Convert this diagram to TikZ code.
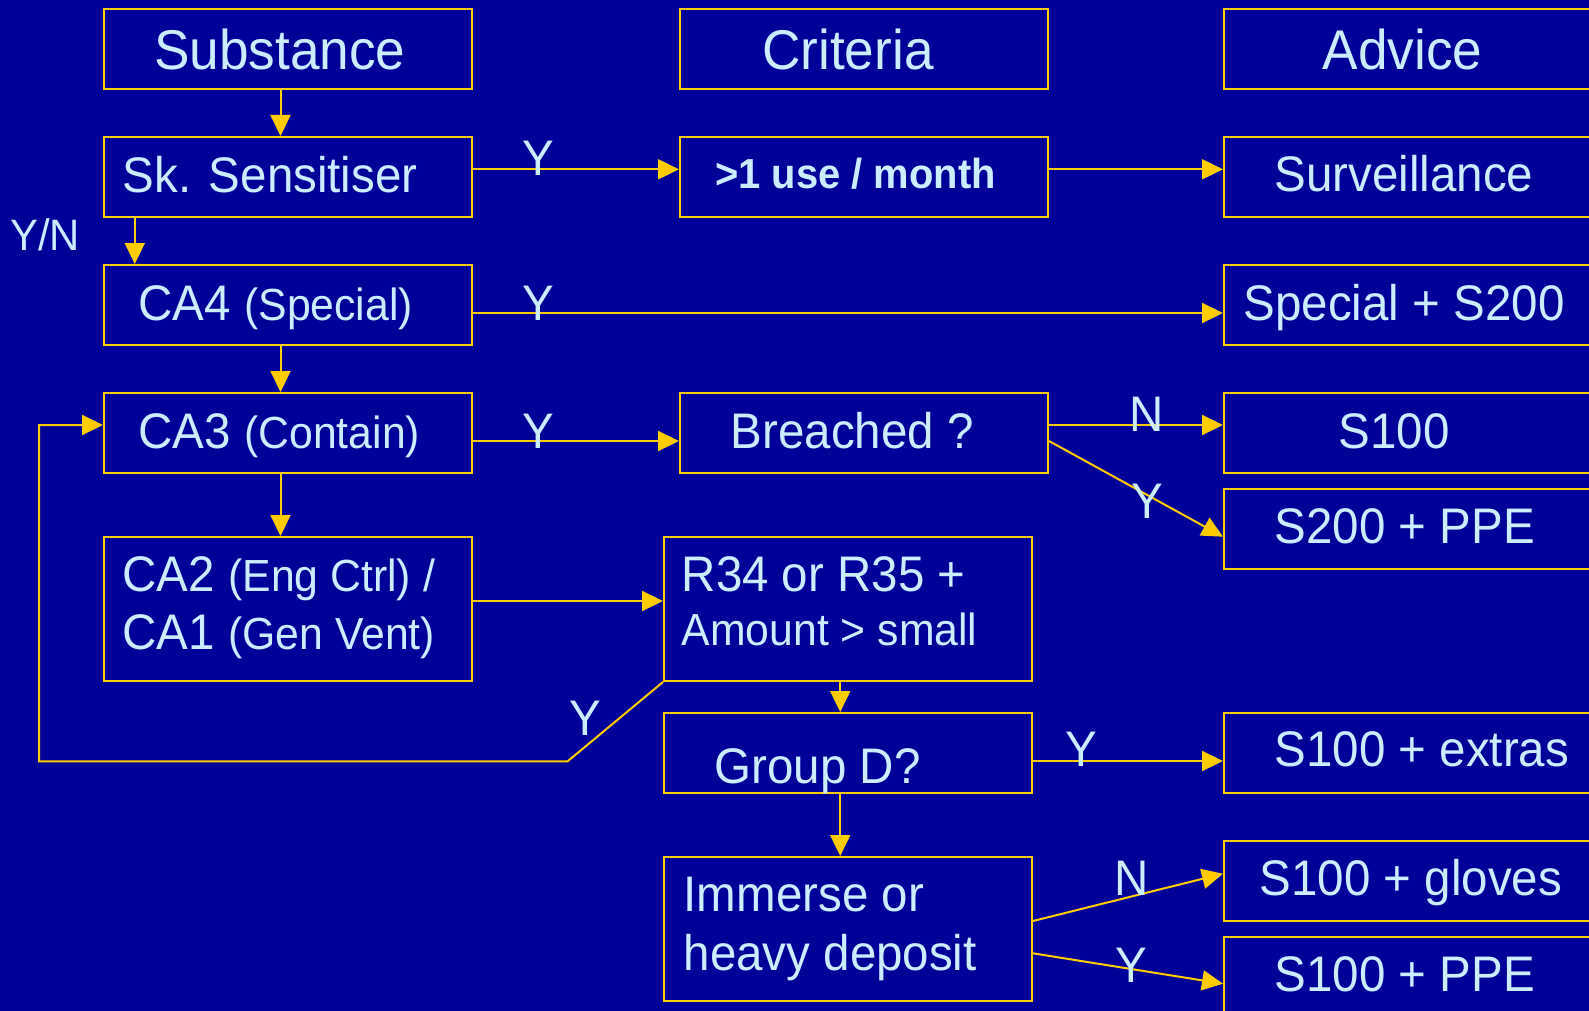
\documentclass[tikz,border=0pt]{standalone}
\usepackage{fontspec}
\setmainfont{Liberation Sans}[FakeStretch=0.95]
\usetikzlibrary{arrows.meta}
\definecolor{bgc}{RGB}{0,0,153}
\definecolor{gold}{RGB}{255,204,0}
\definecolor{txtc}{RGB}{204,236,255}
\newcommand\twoln[3]{\vtop{\lineskiplimit=-100pt\baselineskip=#1\hbox{#2}\hbox{#3}}}
\newcommand\sm[1]{{\fontsize{45}{53}\selectfont #1}}
\tikzset{
  box/.style={draw=gold, line width=2pt, rectangle, inner sep=0pt, anchor=north west},
  txt/.style={text=txtc, inner sep=0pt, anchor=base west, font=\fontsize{50}{60}\selectfont},
  hdr/.style={txt, font=\fontsize{56}{66}\selectfont},
  lbl/.style={text=txtc, inner sep=0pt, anchor=base, font=\fontsize{50}{60}\selectfont},
  arr/.style={draw=gold, line width=2pt, -{Triangle[length=21pt,width=20pt]}}
}
\begin{document}
\begin{tikzpicture}[x=1pt,y=-1pt]
\useasboundingbox (0,0) rectangle (1589,1011);
\fill[bgc] (0,0) rectangle (1589,1011);
\clip (0,0) rectangle (1589,1011);
% boxes
\node[box, minimum width=368pt, minimum height=80pt] (b-sub) at (103,8) {};
\node[box, minimum width=368pt, minimum height=80pt] (b-crit) at (679,8) {};
\node[box, minimum width=380pt, minimum height=80pt] (b-adv) at (1223,8) {};
\node[box, minimum width=368pt, minimum height=80pt] (b-sk) at (103,136) {};
\node[box, minimum width=368pt, minimum height=80pt] (b-use) at (679,136) {};
\node[box, minimum width=380pt, minimum height=80pt] (b-surv) at (1223,136) {};
\node[box, minimum width=368pt, minimum height=80pt] (b-ca4) at (103,264) {};
\node[box, minimum width=380pt, minimum height=80pt] (b-spec) at (1223,264) {};
\node[box, minimum width=368pt, minimum height=80pt] (b-ca3) at (103,392) {};
\node[box, minimum width=368pt, minimum height=80pt] (b-brch) at (679,392) {};
\node[box, minimum width=380pt, minimum height=80pt] (b-s100) at (1223,392) {};
\node[box, minimum width=380pt, minimum height=80pt] (b-s200) at (1223,488) {};
\node[box, minimum width=368pt, minimum height=144pt] (b-ca2) at (103,536) {};
\node[box, minimum width=368pt, minimum height=144pt] (b-r34) at (663,536) {};
\node[box, minimum width=368pt, minimum height=80pt] (b-grpd) at (663,712) {};
\node[box, minimum width=380pt, minimum height=80pt] (b-ext) at (1223,712) {};
\node[box, minimum width=368pt, minimum height=144pt] (b-imm) at (663,856) {};
\node[box, minimum width=380pt, minimum height=80pt] (b-glv) at (1223,840) {};
\node[box, minimum width=380pt, minimum height=80pt] (b-ppe) at (1223,936) {};
% texts
\node[hdr] (t-sub) at (154,70) {Substance};
\node[hdr] (t-crit) at (762,70) {Criteria};
\node[hdr] (t-adv) at (1322.5,70) {Advice};
\node[txt] (t-sk) at (122.5,192.7) {Sk. Sensitiser};
\node[txt, font=\fontsize{42}{50}\selectfont\bfseries] (t-use) at (715,188.3) {>1 use / month};
\node[txt] (t-surv) at (1274.5,191.7) {Surveillance};
\node[txt] (t-ca4) at (138.5,320) {CA4 \sm{(Special)}};
\node[txt] (t-spec) at (1243.5,320) {Special + S200};
\node[txt] (t-ca3) at (138.5,448.3) {CA3 \sm{(Contain)}};
\node[txt] (t-brch) at (730.5,448.3) {Breached ?};
\node[txt] (t-s100) at (1338.5,448) {S100};
\node[txt] (t-s200) at (1274.5,543.3) {S200 + PPE};
\node[txt] (t-ca2) at (122.5,591.7) {\twoln{57.6pt}{CA2 \sm{(Eng Ctrl) /}}{CA1 \sm{(Gen Vent)}}};
\node[txt] (t-r34) at (681.5,591.7) {\twoln{53.3pt}{R34 or R35 +}{\sm{Amount > small}}};
\node[txt] (t-grpd) at (714.5,783.3) {Group D?};
\node[txt] (t-ext) at (1274.5,766.7) {S100 + extras};
\node[txt] (t-imm) at (683.5,911.7) {\twoln{58.3pt}{Immerse or}{heavy deposit}};
\node[txt] (t-glv) at (1259.5,895) {S100 + gloves};
\node[txt] (t-ppe) at (1274.5,991.7) {S100 + PPE};
% connectors
\draw[arr] ([xshift=-7.5pt]b-sub.south) -- ([xshift=-7.5pt]b-sk.north);
\draw[arr] ([xshift=31.8pt]b-sk.south west) -- ([xshift=31.8pt]b-ca4.north west);
\draw[arr] ([yshift=7.7pt]b-sk.east) -- ([yshift=7.7pt]b-use.west);
\draw[arr] ([yshift=7.7pt]b-use.east) -- ([yshift=7.7pt]b-surv.west);
\draw[arr] ([yshift=-8pt]b-ca4.east) -- ([yshift=-8pt]b-spec.west);
\draw[arr] ([xshift=-7.5pt]b-ca4.south) -- ([xshift=-7.5pt]b-ca3.north);
\draw[arr] ([yshift=-8pt]b-ca3.east) -- ([yshift=-8pt]b-brch.west);
\draw[arr] ([yshift=8pt]b-brch.east) -- ([yshift=8pt]b-s100.west);
\draw[arr] ([yshift=-8pt]b-brch.east) -- ([yshift=-7.7pt]b-s200.west);
\draw[arr] ([xshift=-7.5pt]b-ca3.south) -- ([xshift=-7.5pt]b-ca2.north);
\draw[arr] ([yshift=8pt]b-ca2.east) -- ([yshift=8pt]b-r34.west);
\draw[arr] ([xshift=-7.8pt]b-r34.south) -- ([xshift=-7.8pt]b-grpd.north);
\draw[arr] (b-r34.south west) -- ++(-95.4,79.3) -- ++(-528.6,0) |- ([yshift=8pt]b-ca3.west);
\draw[arr] ([yshift=-8pt]b-grpd.east) -- ([yshift=-8pt]b-ext.west);
\draw[arr] ([xshift=-7.8pt]b-grpd.south) -- ([xshift=-7.8pt]b-imm.north);
\draw[arr] ([yshift=8pt]b-imm.east) -- ([yshift=7.3pt]b-glv.west);
\draw[arr] ([yshift=-24.3pt]b-imm.east) -- ([yshift=-6.7pt]b-ppe.west);
% labels
\node[lbl] (l-sk) at (538.4,176) {Y};
\node[lbl, font=\fontsize{44}{52}\selectfont] (l-yn) at (45.3,250.7) {Y/N};
\node[lbl] (l-ca4) at (538.4,320) {Y};
\node[lbl] (l-ca3) at (538.4,448.3) {Y};
\node[lbl] (l-brn) at (1147,431.7) {N};
\node[lbl] (l-bry) at (1147,518.3) {Y};
\node[lbl] (l-loop) at (585.7,735) {Y};
\node[lbl] (l-grp) at (1081,766.7) {Y};
\node[lbl] (l-imn) at (1132,895) {N};
\node[lbl] (l-imy) at (1131,982.7) {Y};
\end{tikzpicture}
\end{document}
